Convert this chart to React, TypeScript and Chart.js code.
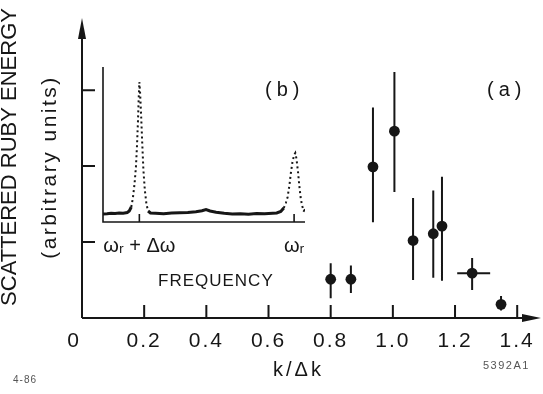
import React, { useEffect, useRef } from 'react';
import { Chart, registerables } from 'chart.js';

Chart.register(...registerables);

// ---- main panel (a) data ----
const kValues = [0.80, 0.865, 0.936, 1.005, 1.065, 1.13, 1.158, 1.255, 1.348];
const energy = [0.51, 0.51, 1.99, 2.46, 1.02, 1.11, 1.21, 0.59, 0.18];
const energyLow = [0.26, 0.33, 1.26, 1.66, 0.50, 0.53, 0.49, 0.37, 0.10];
const energyHigh = [0.72, 0.69, 2.77, 3.24, 1.58, 1.68, 1.86, 0.79, 0.29];
const kLow = [null, null, null, null, null, null, null, 1.207, null];
const kHigh = [null, null, null, null, null, null, null, 1.313, null];

const xTickValues = [0, 0.2, 0.4, 0.6, 0.8, 1.0, 1.2, 1.4];
const xTickLabels = ['0  ', '0.2', '0.4', '0.6', '0.8', '1.0', '1.2', '1.4'];
const yTickValues = [1, 2, 3];

// ---- inset (b) spectrum data ----
const freqPos = [0, 2, 4, 6, 8, 10, 12, 13, 14, 14.8, 15.6, 16.3, 16.8, 17.3, 17.7, 18, 18.4, 18.9, 19.4, 20, 20.7, 21.5, 22.3, 23.5, 26, 30, 34, 38, 42, 46, 49, 51, 53, 56, 60, 64, 68, 72, 76, 80, 84, 86, 88, 89.5, 90.5, 91.4, 92.3, 93, 93.8, 94.6, 95.2, 95.8, 96.6, 97.2, 97.8, 98.5, 99.2, 100];
const signal = [8, 8.3, 8.8, 8.5, 9, 8.8, 9.5, 11, 15, 24, 38, 55, 75, 100, 125, 140, 128, 105, 80, 52, 32, 18, 11, 9, 8.7, 8.2, 8.9, 9.3, 9.6, 10.3, 11.2, 12.5, 11, 9.8, 8.8, 8, 8.3, 7.8, 8.4, 8.2, 8.8, 9, 10.5, 14, 19, 25, 37, 49, 60, 67, 69, 63, 49, 36, 25, 17, 12, 11];
const insetTickValues = [18, 94.6];
const insetTickLabels = ['ωᵣ + Δω', 'ωᵣ'];

const FONT = '"Liberation Sans", Arial, sans-serif';
const INK = '#161616';

function drawText(ctx: CanvasRenderingContext2D, text: string, x: number, y: number, size: number, spacing: number, align: CanvasTextAlign = 'left', color = INK) {
  ctx.save();
  ctx.font = `${size}px ${FONT}`;
  (ctx as any).letterSpacing = `${spacing}px`;
  ctx.fillStyle = color;
  ctx.textAlign = align;
  ctx.textBaseline = 'middle';
  ctx.fillText(text, x, y);
  ctx.restore();
}

const mainPlugin = {
  id: 'mainDecor',
  beforeDraw(chart: any) {
    chart.ctx.letterSpacing = '2px';
  },
  beforeDatasetsDraw(chart: any) {
    const { ctx, scales } = chart;
    const xs = scales.x, ys = scales.y;
    ctx.save();
    ctx.strokeStyle = INK;
    ctx.lineWidth = 2;
    ctx.beginPath();
    for (let i = 0; i < kValues.length; i++) {
      const px = xs.getPixelForValue(kValues[i]);
      ctx.moveTo(px, ys.getPixelForValue(energyLow[i]));
      ctx.lineTo(px, ys.getPixelForValue(energyHigh[i]));
      if (kLow[i] != null && kHigh[i] != null) {
        const py = ys.getPixelForValue(energy[i]);
        ctx.moveTo(xs.getPixelForValue(kLow[i] as number), py);
        ctx.lineTo(xs.getPixelForValue(kHigh[i] as number), py);
      }
    }
    ctx.stroke();
    ctx.restore();
  },
  afterDraw(chart: any) {
    const { ctx, scales, chartArea } = chart;
    const xs = scales.x, ys = scales.y;
    const x0 = xs.getPixelForValue(0);
    const y0 = ys.getPixelForValue(0);
    ctx.save();
    ctx.strokeStyle = INK;
    ctx.fillStyle = INK;
    ctx.lineWidth = 2;
    // axes
    ctx.beginPath();
    ctx.moveTo(x0, y0);
    ctx.lineTo(x0, chartArea.top + 14);
    ctx.moveTo(x0, y0);
    ctx.lineTo(chartArea.right + 6, y0);
    // ticks
    xTickValues.forEach((v) => {
      if (v === 0) return;
      const px = xs.getPixelForValue(v);
      ctx.moveTo(px, y0);
      ctx.lineTo(px, y0 - 13);
    });
    yTickValues.forEach((v) => {
      const py = ys.getPixelForValue(v);
      ctx.moveTo(x0, py);
      ctx.lineTo(x0 + 13, py);
    });
    ctx.stroke();
    // arrow heads
    ctx.beginPath();
    ctx.moveTo(x0, chartArea.top);
    ctx.lineTo(x0 - 4, chartArea.top + 21);
    ctx.lineTo(x0 + 4, chartArea.top + 21);
    ctx.closePath();
    ctx.fill();
    ctx.beginPath();
    ctx.moveTo(chartArea.right + 21, y0);
    ctx.lineTo(chartArea.right + 2, y0 - 4);
    ctx.lineTo(chartArea.right + 2, y0 + 4);
    ctx.closePath();
    ctx.fill();
    ctx.restore();

    // y-axis titles
    ctx.save();
    ctx.translate(10, 157);
    ctx.rotate(-Math.PI / 2);
    drawText(ctx, 'SCATTERED RUBY ENERGY', 0, 0, 22, 0, 'center');
    ctx.restore();
    ctx.save();
    ctx.translate(50, 167);
    ctx.rotate(-Math.PI / 2);
    drawText(ctx, '(arbitrary units)', 0, 0, 21, 2.5, 'center');
    ctx.restore();

    drawText(ctx, '(a)', 487, 90, 20, 5);
    drawText(ctx, 'k/Δk', 273, 370, 20, 3);
    drawText(ctx, '4-86', 13, 380, 10, 1, 'left', '#555');
    drawText(ctx, '5392A1', 483, 366, 11, 1.5, 'left', '#555');
  },
};

const insetPlugin = {
  id: 'insetDecor',
  afterDraw(chart: any) {
    const { ctx, scales, chartArea } = chart;
    const xs = scales.x;
    ctx.save();
    ctx.strokeStyle = INK;
    ctx.lineWidth = 1.6;
    ctx.beginPath();
    ctx.moveTo(chartArea.left, chartArea.top);
    ctx.lineTo(chartArea.left, chartArea.bottom);
    ctx.lineTo(chartArea.right, chartArea.bottom);
    insetTickValues.forEach((v) => {
      const px = xs.getPixelForValue(v);
      ctx.moveTo(px, chartArea.bottom);
      ctx.lineTo(px, chartArea.bottom - 8);
    });
    ctx.stroke();
    ctx.restore();
    drawText(ctx, '(b)', 265, 90, 20, 5);
    drawText(ctx, 'FREQUENCY', 158, 281, 17, 1);
  },
};

const steep = (c: any) => Math.max(c.p0.parsed.y, c.p1.parsed.y) > 16;

export default function App() {
  const mainRef = useRef<HTMLCanvasElement>(null);
  const insetRef = useRef<HTMLCanvasElement>(null);

  useEffect(() => {
    document.body.style.margin = '0';
    const mainChart = new Chart(mainRef.current as HTMLCanvasElement, {
      type: 'scatter',
      data: {
        datasets: [
          {
            data: kValues.map((k, i) => ({ x: k, y: energy[i] })),
            pointRadius: 5.4,
            pointHoverRadius: 5.4,
            backgroundColor: INK,
            borderColor: INK,
            borderWidth: 0,
          },
        ],
      },
      options: {
        responsive: false,
        animation: false,
        devicePixelRatio: 1,
        events: [],
        layout: { padding: { left: 82, top: 18, right: 23, bottom: 0 } },
        plugins: { legend: { display: false }, tooltip: { enabled: false } },
        scales: {
          x: {
            type: 'linear',
            min: 0,
            max: 1.409,
            grid: { display: false, drawTicks: false },
            border: { display: false },
            afterBuildTicks: (s: any) => {
              s.ticks = xTickValues.map((v) => ({ value: v }));
            },
            afterFit: (s: any) => {
              s.height = 76;
            },
            ticks: {
              autoSkip: false,
              maxRotation: 0,
              padding: 11,
              color: INK,
              font: { family: FONT, size: 21 },
              callback: (_v: any, i: number) => xTickLabels[i],
            },
          },
          y: { type: 'linear', display: false, min: 0, max: 3.95 },
        },
      },
      plugins: [mainPlugin],
    } as any);

    const insetChart = new Chart(insetRef.current as HTMLCanvasElement, {
      type: 'line',
      data: {
        datasets: [
          {
            data: freqPos.map((x, i) => ({ x, y: signal[i] })),
            borderColor: INK,
            borderWidth: 3,
            pointRadius: 0,
            tension: 0,
            fill: false,
            segment: {
              borderDash: (c: any) => (steep(c) ? [2, 3] : undefined),
              borderWidth: (c: any) => (steep(c) ? 2 : undefined),
            },
          },
        ],
      },
      options: {
        responsive: false,
        animation: false,
        devicePixelRatio: 1,
        events: [],
        layout: { padding: { left: 103, top: 67, right: 238, bottom: 0 } },
        plugins: { legend: { display: false }, tooltip: { enabled: false } },
        scales: {
          x: {
            type: 'linear',
            min: 0,
            max: 100,
            grid: { display: false, drawTicks: false },
            border: { display: false },
            afterBuildTicks: (s: any) => {
              s.ticks = insetTickValues.map((v) => ({ value: v }));
            },
            afterFit: (s: any) => {
              s.height = 172;
            },
            ticks: {
              autoSkip: false,
              maxRotation: 0,
              padding: 12,
              color: INK,
              font: { family: FONT, size: 20 },
              callback: (_v: any, i: number) => insetTickLabels[i],
            },
          },
          y: { type: 'linear', display: false, min: 0, max: 155 },
        },
      },
      plugins: [insetPlugin],
    } as any);

    return () => {
      mainChart.destroy();
      insetChart.destroy();
    };
  }, []);

  return (
    <div style={{ position: 'relative', width: 543, height: 394, background: '#fff' }}>
      <canvas ref={mainRef} width={543} height={394} style={{ position: 'absolute', left: 0, top: 0 }} />
      <canvas ref={insetRef} width={543} height={394} style={{ position: 'absolute', left: 0, top: 0 }} />
    </div>
  );
}
